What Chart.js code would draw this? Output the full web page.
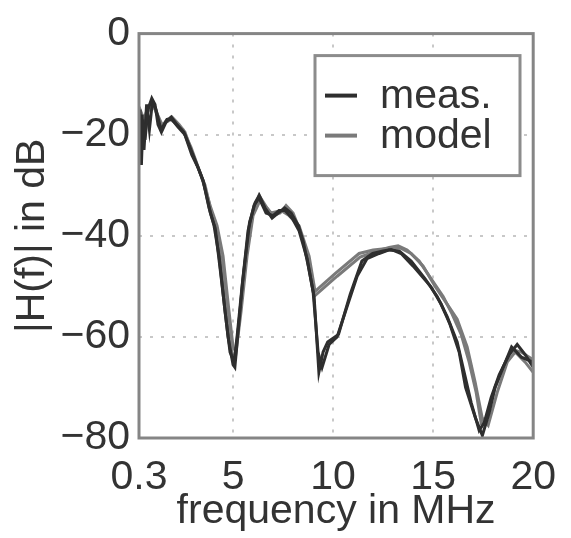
<!DOCTYPE html>
<html>
<head>
<meta charset="utf-8">
<script src="https://cdn.jsdelivr.net/npm/chart.js@4"></script>
<style>
  html, body { margin: 0; padding: 0; background: #fff; }
  #wrap { width: 571px; height: 538px; }
</style>
</head>
<body>
<div id="wrap"><canvas id="hChart" width="571" height="538"></canvas></div>
<script>
// Transfer function magnitude, measured vs. model
const xTicks = [0.3, 5, 10, 15, 20];
const yTicks = [0, -20, -40, -60, -80];

const measFreqA = [0.3, 0.35, 0.42, 0.5, 0.6, 0.75, 0.94, 1.1, 1.25, 1.42, 1.65, 1.91, 2.2, 2.55, 2.94, 3.25, 3.53, 3.87, 4.11, 4.4, 4.75, 5.0, 5.09, 5.3, 5.48, 5.82, 6.1, 6.31, 6.6, 6.95, 7.25, 7.58, 7.9, 8.27, 8.5, 8.76, 9.05, 9.29, 9.5, 9.73, 10.27, 10.6, 10.86, 11.44, 11.98, 12.5, 12.9, 13.4, 14.0, 14.87, 15.4, 15.84, 16.3, 16.62, 17.11, 17.46, 17.8, 18.09, 18.5, 18.92, 19.41, 20];
const measDbA = [-22, -15, -26, -17, -21, -15, -12.8, -14, -18, -19.5, -17.5, -16.5, -18, -19.5, -24, -26.5, -29.5, -35.5, -38.5, -48, -60, -65.5, -66, -57, -49, -37.5, -33.5, -32, -34.5, -36.5, -35.5, -34.5, -35.5, -38, -41, -46, -52, -67, -63, -61, -59.5, -55, -51.5, -45, -43.5, -43, -42.7, -43.5, -46, -50, -53.5, -57.5, -63, -70, -76, -79.5, -75, -70, -66, -62, -64, -65];

const measFreqB = [0.3, 0.38, 0.45, 0.55, 0.68, 0.82, 0.97, 1.15, 1.4, 1.7, 1.95, 2.25, 2.6, 2.9, 3.2, 3.5, 3.8, 4.05, 4.3, 4.6, 4.85, 5.05, 5.2, 5.45, 5.75, 6.05, 6.3, 6.65, 7.0, 7.3, 7.6, 7.95, 8.3, 8.7, 9.0, 9.25, 9.45, 9.8, 10.2, 10.7, 11.2, 11.7, 12.3, 12.8, 13.3, 13.9, 14.6, 15.2, 15.7, 16.2, 16.55, 16.9, 17.3, 17.55, 17.9, 18.3, 18.8, 19.2, 19.6, 20];
const measDbB = [-18, -25, -16, -23, -14, -19, -13.5, -15, -19, -17, -17, -18.5, -20, -23, -26, -29, -34.5, -38, -44, -55, -63, -65, -60, -50, -39, -34, -32.5, -35.5, -36, -35, -35, -36.5, -39, -44.5, -51, -63, -66, -61.5, -60, -54, -48, -44.5, -43.5, -42.8, -43, -45, -48.5, -52, -56, -61, -67, -73, -78.5, -77, -72, -67.5, -63.5, -61.5, -63.5, -66];

const modelFreqA = [0.3, 0.4, 0.55, 0.75, 0.95, 1.2, 1.42, 1.7, 1.95, 2.3, 2.6, 2.95, 3.3, 3.6, 3.9, 4.15, 4.45, 4.75, 4.95, 5.1, 5.3, 5.55, 5.85, 6.3, 6.7, 7.0, 7.35, 7.65, 8.0, 8.35, 8.75, 9.05, 10.2, 11.35, 12.2, 12.8, 13.25, 13.7, 14.3, 14.9, 15.5, 15.95, 16.4, 16.8, 17.15, 17.4, 17.7, 18.1, 18.5, 18.95, 19.4, 20];
const modelDbA = [-19, -15.5, -17, -14.5, -13.5, -16, -18.5, -17, -16.5, -18, -19.5, -23.5, -27, -30, -35, -38.5, -46, -57, -63.5, -64, -57, -47, -37, -32, -34.5, -36, -35.5, -34, -35.5, -39, -45, -52, -48, -44.2, -43, -42.3, -42, -42.8, -45, -48.5, -52, -55.5, -59.5, -65, -71, -77, -76, -70, -66, -62.5, -63, -64.5];

const modelFreqB = [0.3, 0.5, 0.8, 1.0, 1.45, 1.9, 2.5, 2.9, 3.4, 3.85, 4.2, 4.5, 4.8, 5.0, 5.15, 5.4, 5.7, 6.0, 6.35, 6.9, 7.4, 7.8, 8.3, 8.8, 9.1, 10.1, 11.3, 12.0, 12.7, 13.3, 13.9, 14.5, 15.1, 15.7, 16.2, 16.7, 17.1, 17.45, 17.75, 18.2, 18.7, 19.1, 19.6, 20];
const modelDbB = [-17, -17.5, -15, -14, -18, -17, -19, -22.5, -28, -34, -38, -44, -55, -62, -63, -55, -44, -36, -33, -35.5, -35, -36, -38, -44, -51, -47.5, -43.5, -42.8, -42.5, -42.3, -43.5, -46, -50, -53.5, -56.5, -62, -69, -76, -77.5, -71, -65, -63, -65, -67];

const legendLabels = ['meas.', 'model'];

const measColor = '#2e2e2e';
const modelColor = '#7a7a7a';
const textColor = '#333333';
const fontFamily = '"Liberation Sans", Arial, Helvetica, sans-serif';

function toPoints(xs, ys) {
    return xs.map((x, i) => ({ x: x, y: ys[i] }));
}

function lineSet(label, xs, ys, color) {
    return {
        label: label,
        data: toPoints(xs, ys),
        borderColor: color,
        borderWidth: 3,
        pointRadius: 0,
        tension: 0,
        fill: false
    };
}

// frame around the plot and the boxed legend in the upper right
const framePlugin = {
    id: 'frameAndLegend',
    afterDatasetsDraw(chart) {
        const { ctx, chartArea: a } = chart;
        ctx.save();
        ctx.strokeStyle = '#858585';
        ctx.lineWidth = 3;
        ctx.strokeRect(a.left, a.top, a.right - a.left, a.bottom - a.top);

        const bx = a.left + 176, by = a.top + 22, bw = 205, bh = 120;
        ctx.fillStyle = '#ffffff';
        ctx.fillRect(bx, by, bw, bh);
        ctx.strokeStyle = '#8c8c8c';
        ctx.lineWidth = 3;
        ctx.strokeRect(bx, by, bw, bh);

        const colors = [measColor, modelColor];
        ctx.font = '41px ' + fontFamily;
        ctx.textBaseline = 'middle';
        ctx.textAlign = 'left';
        legendLabels.forEach((lab, i) => {
            const ly = by + 40 + i * 40;
            ctx.strokeStyle = colors[i];
            ctx.lineWidth = 4;
            ctx.beginPath();
            ctx.moveTo(bx + 10, ly);
            ctx.lineTo(bx + 42, ly);
            ctx.stroke();
            ctx.fillStyle = textColor;
            ctx.fillText(lab, bx + 65, ly + 1);
        });
        ctx.restore();
    }
};

const ctx = document.getElementById('hChart').getContext('2d');
const hChart = new Chart(ctx, {
    type: 'line',
    data: {
        datasets: [
            lineSet('meas.', measFreqA, measDbA, measColor),
            lineSet('meas.', measFreqB, measDbB, measColor),
            lineSet('model', modelFreqA, modelDbA, modelColor),
            lineSet('model', modelFreqB, modelDbB, modelColor)
        ]
    },
    options: {
        responsive: false,
        animation: false,
        layout: { padding: { left: 8, top: 30, right: 29, bottom: 2 } },
        plugins: {
            legend: { display: false },
            tooltip: { enabled: false }
        },
        scales: {
            x: {
                type: 'linear',
                min: 0.3,
                max: 20,
                afterBuildTicks: (scale) => { scale.ticks = xTicks.map(v => ({ value: v })); },
                afterFit: (scale) => { scale.height = 98; },
                ticks: {
                    color: textColor,
                    font: { family: fontFamily, size: 41 },
                    padding: 15,
                    maxRotation: 0,
                    autoSkip: false,
                    callback: (v) => String(v)
                },
                grid: { color: '#c8c8c8', lineWidth: 2, drawTicks: false },
                border: { display: false, dash: [3, 8] },
                title: {
                    display: true,
                    text: 'frequency in MHz',
                    color: textColor,
                    font: { family: fontFamily, size: 41 },
                    padding: 0
                }
            },
            y: {
                type: 'linear',
                min: -80,
                max: 0,
                afterBuildTicks: (scale) => { scale.ticks = yTicks.map(v => ({ value: v })); },
                afterFit: (scale) => { scale.width = 131; },
                ticks: {
                    color: textColor,
                    font: { family: fontFamily, size: 41 },
                    padding: 9,
                    callback: (v) => (v < 0 ? '\u2212' + Math.abs(v) : String(v))
                },
                grid: { color: '#c8c8c8', lineWidth: 2, drawTicks: false },
                border: { display: false, dash: [3, 8] },
                title: {
                    display: true,
                    text: '|H(f)| in dB',
                    color: textColor,
                    font: { family: fontFamily, size: 41 },
                    padding: 0
                }
            }
        }
    },
    plugins: [framePlugin]
});
</script>
</body>
</html>
